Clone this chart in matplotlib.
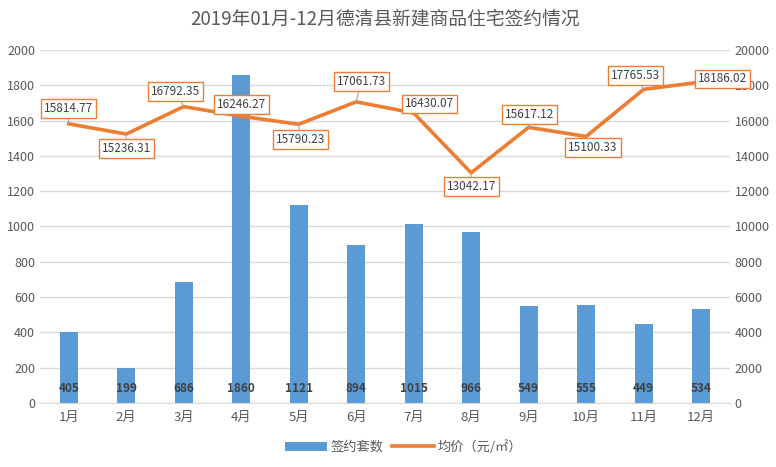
import matplotlib
matplotlib.use("Agg")
import matplotlib.pyplot as plt
import numpy as np

plt.rcParams['font.family'] = ['Noto Sans CJK SC', 'DejaVu Sans']

months = ["1月", "2月", "3月", "4月", "5月", "6月", "7月", "8月", "9月", "10月", "11月", "12月"]
deals = [405, 199, 686, 1860, 1121, 894, 1015, 966, 549, 555, 449, 534]
avg_price = [15814.77, 15236.31, 16792.35, 16246.27, 15790.23, 17061.73,
             16430.07, 13042.17, 15617.12, 15100.33, 17765.53, 18186.02]

# label offsets (pixels) for the price labels
lbl_dx = [0, 0, -8, 0, 2, 5, 16, 0, 1, 7, -8, 21]
lbl_dy = [15, -14, 15, 12, -15, 20, 9, -14, 13, -11, 14, 3]

BLUE = "#5B9BD5"
ORANGE = "#ED7D31"
GRID = "#D9D9D9"
TXT = "#595959"

fig = plt.figure(figsize=(7.76, 4.67), dpi=100)
ax = fig.add_axes([0.0515, 0.137, 0.889, 0.756])
ax2 = ax.twinx()

x = np.arange(len(months))
bars = ax.bar(x, deals, width=0.31, color=BLUE, zorder=2, label="签约套数")
for xi, v in zip(x, deals):
    ax.text(xi, 85, str(v), ha="center", va="center", fontsize=8.5,
            fontweight="bold", color="#404040", zorder=3)

ax.set_xlim(-0.5, len(months) - 0.5)
ax.set_ylim(0, 2000)
ax.set_yticks(range(0, 2001, 200))
ax.set_xticks(x)
ax.set_xticklabels(months)
ax.grid(axis="y", color=GRID, lw=1, zorder=0)
ax.set_axisbelow(True)

line, = ax2.plot(x, avg_price, color=ORANGE, lw=2.6, zorder=4, label="均价（元/㎡）")
ax2.set_ylim(0, 20000)
ax2.set_yticks(range(0, 20001, 2000))

for i, v in enumerate(avg_price):
    ax2.annotate(f"{v:.2f}", xy=(x[i], v), xytext=(lbl_dx[i], lbl_dy[i]),
                 textcoords="offset pixels", ha="center", va="center",
                 fontsize=8.5, color="#404040", zorder=6,
                 bbox=dict(boxstyle="square,pad=0.25", fc="white", ec=ORANGE, lw=1),
                 arrowprops=dict(arrowstyle="-", color="#A6A6A6", lw=0.8, shrinkA=0, shrinkB=0))

for a in (ax, ax2):
    for s in ("top", "left", "right"):
        a.spines[s].set_visible(False)
    a.spines["bottom"].set_color(GRID)
    a.tick_params(length=0, labelsize=9, colors=TXT)
ax.tick_params(axis="x", pad=6, labelsize=9.5)
ax2.spines["bottom"].set_visible(False)

ax.set_title("2019年01月-12月德清县新建商品住宅签约情况", fontsize=13.5, color=TXT, pad=18)

fig.legend(handles=[bars, line], labels=["签约套数", "均价（元/㎡）"],
           loc="center", bbox_to_anchor=(0.52, 0.043), ncol=2, frameon=False,
           fontsize=9.5, labelcolor=TXT, handlelength=3.2, columnspacing=0.6, handletextpad=0.3)

fig.savefig("out.png", dpi=100)
